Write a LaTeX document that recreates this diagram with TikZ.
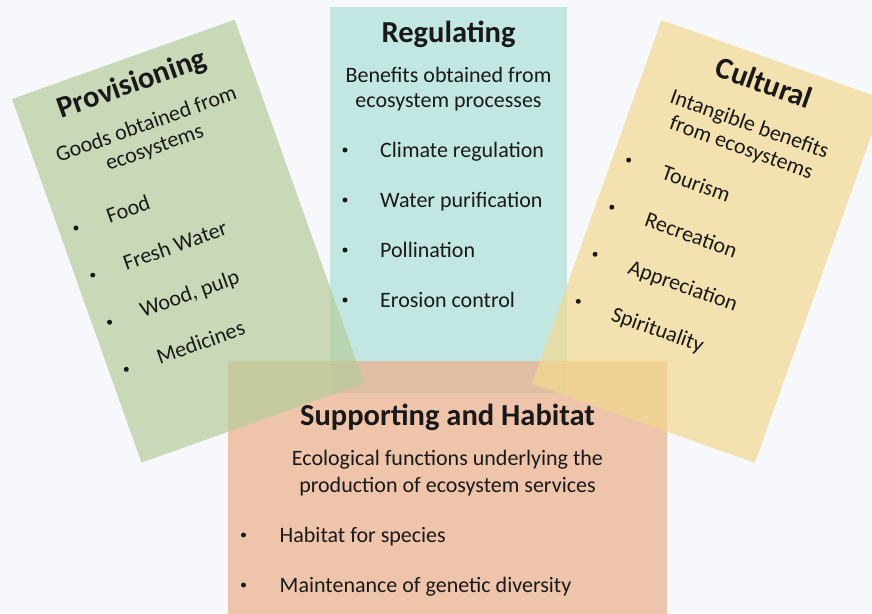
\documentclass[tikz,border=0pt]{standalone}
\usepackage{fontspec}
\setmainfont{Carlito}
\definecolor{bg}{RGB}{246,248,252}
\definecolor{tealc}{RGB}{173,225,216}
\definecolor{greenc}{RGB}{182,205,155}
\definecolor{yellowc}{RGB}{242,217,143}
\definecolor{orangec}{RGB}{236,175,138}
\definecolor{txt}{RGB}{25,25,25}
\begin{document}
\begin{tikzpicture}[x=1pt,y=-1pt,
  card/.style={fill opacity=0.7, draw=none},
  ttl/.style={font=\fontsize{30.5}{34}\selectfont\bfseries, anchor=base, text=txt, inner sep=0},
  sub/.style={font=\fontsize{22}{26}\selectfont, anchor=base, text=txt, inner sep=0},
  item/.style={font=\fontsize{22}{26}\selectfont, anchor=base west, text=txt, inner sep=0},
  dot/.style={circle, fill=txt, inner sep=0, minimum size=5pt}]
\fill[bg] (0,0) rectangle (872,613);
\useasboundingbox (0,0) rectangle (872,613);
\clip (0,0) rectangle (872,613);
% card fills
\fill[card, tealc] (330,7) rectangle (567,393);
\fill[card, orangec] (228,361) rectangle (667,625);
\begin{scope}[shift={(12,99)}, rotate=19.6]
  \fill[card, greenc] (0,0) rectangle (236.5,386);
\end{scope}
\begin{scope}[shift={(661.5,20)}, rotate=-19.6]
  \fill[card, yellowc] (0,0) rectangle (236.5,386);
\end{scope}
% Regulating
\begin{scope}[shift={(330,7)}]
  \node[ttl] (rt) at (118.5,35) {Regulating};
  \node[sub] (rs1) at (118.5,75) {Benefits obtained from};
  \node[sub] (rs2) at (118.5,100.5) {ecosystem processes};
  \foreach \t [count=\i from 0] in {Climate regulation, Water purification, Pollination, Erosion control} {
    \node[dot] (rb\i) at (15,143+50*\i) {};
    \node[item] (ri\i) at (50,150+50*\i) {\t};
  }
\end{scope}
% Provisioning
\begin{scope}[shift={(12,99)}, rotate=19.6, transform shape]
  \node[ttl] (pt) at (118,35) {Provisioning};
  \node[sub] (ps1) at (118,75.5) {Goods obtained from};
  \node[sub] (ps2) at (118,100) {ecosystems};
  \foreach \t [count=\i from 0] in {Food, Fresh Water, {Wood, pulp}, Medicines} {
    \node[dot] (pb\i) at (17,143+50*\i) {};
    \node[item] (pi\i) at (50,150+50*\i) {\t};
  }
\end{scope}
% Cultural
\begin{scope}[shift={(661.5,20)}, rotate=-19.6, transform shape]
  \node[ttl] (ct) at (118,35) {Cultural};
  \node[sub] (cs1) at (118,75.5) {Intangible benefits};
  \node[sub] (cs2) at (118,100) {from ecosystems};
  \foreach \t [count=\i from 0] in {Tourism, Recreation, Appreciation, Spirituality} {
    \node[dot] (cb\i) at (16,143+50*\i) {};
    \node[item] (ci\i) at (52,150+50*\i) {\t};
  }
\end{scope}
% Supporting and Habitat
\begin{scope}[shift={(228,361)}]
  \node[ttl] (st) at (219.5,64) {Supporting and Habitat};
  \node[sub] (ss1) at (219.5,104) {Ecological functions underlying the};
  \node[sub] (ss2) at (219.5,131) {production of ecosystem services};
  \foreach \t [count=\i from 0] in {Habitat for species, Maintenance of genetic diversity} {
    \node[dot] (sb\i) at (15.5,174+50*\i) {};
    \node[item] (si\i) at (51.5,181+50*\i) {\t};
  }
\end{scope}
\end{tikzpicture}
\end{document}
